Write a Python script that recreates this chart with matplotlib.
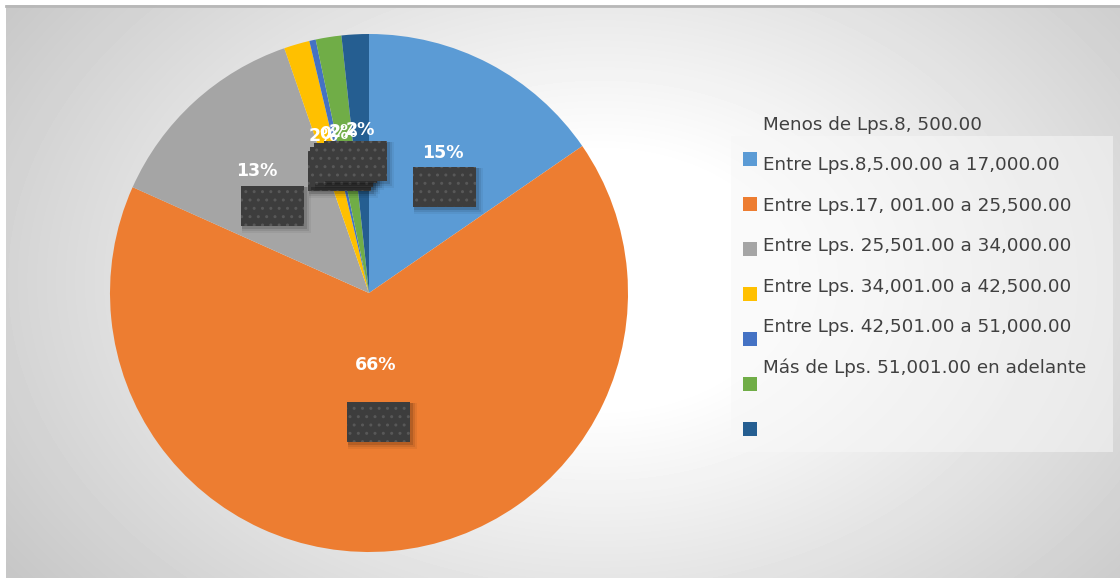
import numpy as np
import matplotlib
matplotlib.use("Agg")
from matplotlib import pyplot as plt
from matplotlib.patches import Rectangle

# data (percent of respondents per income range)
categories = ["Menos de Lps.8, 500.00",
              "Entre Lps.8,5.00.00 a 17,000.00",
              "Entre Lps.17, 001.00 a 25,500.00",
              "Entre Lps. 25,501.00 a 34,000.00",
              "Entre Lps. 34,001.00 a 42,500.00",
              "Entre Lps. 42,501.00 a 51,000.00",
              "Más de Lps. 51,001.00 en adelante",
              ""]
values = [15.4, 66.3, 13.0, 1.6, 0.4, 1.6, 1.7]
colors = ["#5B9BD5", "#ED7D31", "#A5A5A5", "#FFC000", "#4472C4", "#70AD47", "#255E91"]

W, H = 1120, 578
fig = plt.figure(figsize=(W / 100, H / 100), dpi=100)
fig.patch.set_facecolor("white")

# background gradient of the chart area
bg = fig.add_axes([0, 0, 1, 1], zorder=0)
yy, xx = np.mgrid[0:H, 0:W]
r = np.sqrt(((xx - 600) / 600.0) ** 2 + ((yy - 280) / 420.0) ** 2)
shade = 1 - 0.22 * np.clip((r - 0.3) / 0.9, 0, 1)
shade[:, :6] = 1.0
shade[:5, :] = 1.0
bg.imshow(shade, cmap="gray", vmin=0, vmax=1, extent=(0, W, H, 0), aspect="auto")
bg.plot([6, W], [5.5, 5.5], color="#b8b8b8", lw=2)
bg.set_xlim(0, W)
bg.set_ylim(H, 0)
bg.axis("off")

# pie
cx, cy, R = 369, 293, 259
ax = fig.add_axes([(cx - R) / W, (H - cy - R) / H, 2 * R / W, 2 * R / H], zorder=1)
wedges, _ = ax.pie(values, colors=colors, startangle=90, counterclock=False,
                   radius=1, wedgeprops=dict(linewidth=0))
ax.set_xlim(-1, 1)
ax.set_ylim(-1, 1)
ax.axis("off")

# overlay in pixel coordinates for labels, callout boxes and legend
ov = fig.add_axes([0, 0, 1, 1], zorder=2)
ov.set_xlim(0, W)
ov.set_ylim(H, 0)
ov.axis("off")
ov.patch.set_alpha(0)

label_radius = [0.61, 0.28, 0.64, 0.63, 0.63, 0.63, 0.63]
box_offset = [(2, 34), (2, 57), (15, 35), (16, 35), (8, 33), (2, 31), (-5, 31)]
for w, v, lr, off in zip(wedges, values, label_radius, box_offset):
    mid = np.deg2rad((w.theta1 + w.theta2) / 2)
    lx = cx + lr * R * np.cos(mid)
    ly = cy - lr * R * np.sin(mid)
    bx = lx + off[0] - 31
    by = ly + off[1] - 20
    # soft shadow
    for k, a in [(6, 0.05), (4, 0.08), (2, 0.12)]:
        ov.add_patch(Rectangle((bx + 1, by + 1), 63 + k, 40 + k, facecolor="#000000",
                               alpha=a, lw=0))
    ov.add_patch(Rectangle((bx, by), 63, 40, facecolor="#3d3d3d", edgecolor="#585858",
                           hatch="..", lw=0))
    ov.text(lx, ly, "%.0f%%" % v, color="white", fontsize=12.5, fontweight="bold",
            ha="center", va="center")

# legend (text and keys are offset from each other as in the original)
ov.add_patch(Rectangle((731, 136), 382, 316, facecolor="#f7f7f7", alpha=0.55, lw=0))
for i, name in enumerate(categories):
    ov.text(763, 125 + 40.4 * i, name, fontsize=13.2, color="#404040",
            ha="left", va="center")
for i, c in enumerate(colors):
    ov.add_patch(Rectangle((743, 152 + 45 * i), 14, 14, facecolor=c, lw=0))

fig.savefig("out.png", dpi=100)
